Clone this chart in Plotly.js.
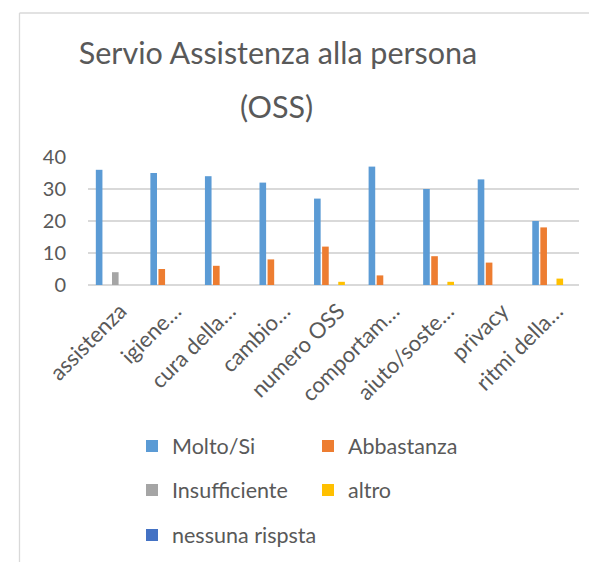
<!DOCTYPE html>
<html>
<head>
<meta charset="utf-8">
<script src="https://cdn.plot.ly/plotly-3.0.1.min.js"></script>
<style>
html,body{margin:0;padding:0;background:#fff;}
#chart{width:589px;height:562px;}
</style>
</head>
<body>
<div id="chart"></div>
<script>
const categories = ["assistenza","igiene…","cura della…","cambio…","numero OSS","comportam…","aiuto/soste…","privacy","ritmi della…"];
const seriesNames = ["Molto/Si","Abbastanza","Insufficiente","altro","nessuna rispsta"];
const molto = [36,35,34,32,27,37,30,33,20];
const abbastanza = [0,5,6,8,12,3,9,7,18];
const insufficiente = [4,0,0,0,0,0,0,0,0];
const altro = [0,0,0,0,1,0,1,0,2];
const nessuna = [0,0,0,0,0,0,0,0,0];
const colors = ["#5B9BD5","#ED7D31","#A5A5A5","#FFC000","#4472C4"];
const yTicks = [0,10,20,30,40];

const W = 589, H = 562;
const ML = 88, MR = 10, MT = 157, MB = 277;
const PW = W - ML - MR, PH = H - MT - MB;
const px2x = p => (p - ML) / PW;
const py2y = p => (H - MB - p) / PH;

const FONT = "Lato, 'Open Sans', sans-serif";
const TXT = "#595959";

const values = [molto, abbastanza, insufficiente, altro, nessuna];
const legendNames = ["legend","legend2","legend3","legend4","legend5"];
const legendPos = [[132,446],[308,446],[132,490],[308,490],[132,535]];

const traces = values.map((v, i) => ({
  type: "bar",
  name: seriesNames[i],
  x: categories,
  y: v,
  marker: {color: colors[i]},
  legend: legendNames[i],
  showlegend: true,
  hoverinfo: "x+y+name"
}));

const layout = {
  width: W, height: H,
  margin: {l: ML, r: MR, t: MT, b: MB, pad: 0, autoexpand: false},
  paper_bgcolor: "#fff",
  plot_bgcolor: "#fff",
  font: {family: FONT, color: TXT},
  showlegend: true,
  barmode: "group",
  bargap: 0.26,
  bargroupgap: 0.18,
  title: {
    text: "Servio Assistenza alla persona",
    font: {family: FONT, size: 30.5, color: TXT},
    xref: "container", yref: "container",
    x: 278 / W, xanchor: "center",
    y: 1 - 53 / H, yanchor: "middle"
  },
  annotations: [{
    text: "(OSS)",
    xref: "paper", yref: "paper",
    x: px2x(276), y: py2y(106),
    xanchor: "center", yanchor: "middle",
    showarrow: false,
    font: {family: FONT, size: 30.5, color: TXT}
  }],
  xaxis: {
    type: "category",
    tickangle: -45,
    tickfont: {family: FONT, size: 22, color: TXT},
    ticklabelstandoff: 8,
    ticklabelshift: 5,
    showgrid: false,
    showline: false,
    ticks: "",
    zeroline: false,
    automargin: false,
    fixedrange: true
  },
  yaxis: {
    range: [0, 40],
    tickvals: yTicks,
    ticktext: yTicks.map(String),
    tickfont: {family: FONT, size: 20, color: TXT},
    showgrid: true,
    gridcolor: "#D9D9D9",
    gridwidth: 1.5,
    zeroline: true,
    zerolinecolor: "#D9D9D9",
    zerolinewidth: 1.5,
    showline: false,
    ticks: "",
    ticklabelstandoff: 21,
    automargin: false,
    fixedrange: true
  },
  shapes: [
    {type: "line", xref: "paper", yref: "paper",
     x0: px2x(19.5), x1: px2x(600), y0: py2y(13), y1: py2y(13),
     line: {color: "#D9D9D9", width: 1.3}},
    {type: "line", xref: "paper", yref: "paper",
     x0: px2x(19.5), x1: px2x(19.5), y0: py2y(13), y1: py2y(570),
     line: {color: "#D9D9D9", width: 1.3}}
  ]
};

legendNames.forEach((ln, i) => {
  layout[ln] = {
    xref: "paper", yref: "paper",
    x: px2x(legendPos[i][0]), y: py2y(legendPos[i][1]),
    xanchor: "left", yanchor: "middle",
    bgcolor: "rgba(0,0,0,0)",
    font: {family: FONT, size: 21.5, color: TXT},
    orientation: "v"
  };
});

Plotly.newPlot("chart", traces, layout, {displayModeBar: false});
</script>
</body>
</html>
